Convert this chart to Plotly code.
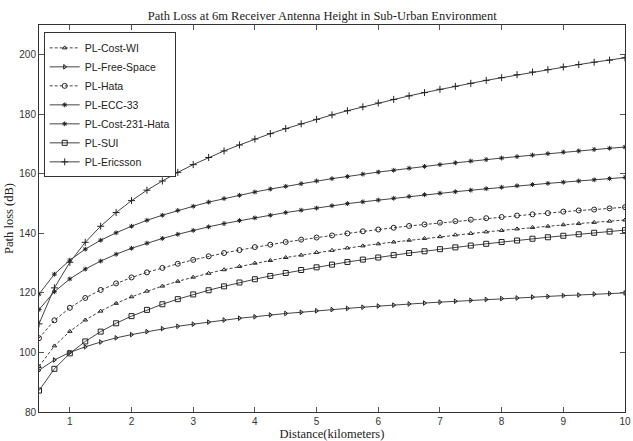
import plotly.graph_objects as go

distance_km = [0.5, 0.75, 1.0, 1.25, 1.5, 1.75, 2.0, 2.25, 2.5, 2.75, 3.0, 3.25, 3.5, 3.75,
               4.0, 4.25, 4.5, 4.75, 5.0, 5.25, 5.5, 5.75, 6.0, 6.25, 6.5, 6.75, 7.0, 7.25,
               7.5, 7.75, 8.0, 8.25, 8.5, 8.75, 9.0, 9.25, 9.5, 9.75, 10.0]

pl_cost_wi = [95.3, 102.2, 107.1, 110.9, 113.9, 116.5, 118.7, 120.6, 122.3, 123.9, 125.3, 126.6,
              127.8, 128.9, 130.0, 130.9, 131.9, 132.7, 133.6, 134.3, 135.1, 135.8, 136.5, 137.1,
              137.7, 138.3, 138.9, 139.5, 140.0, 140.5, 141.0, 141.5, 142.0, 142.4, 142.9, 143.3,
              143.7, 144.1, 144.5]
pl_free_space = [94.0, 97.5, 100.0, 101.9, 103.5, 104.9, 106.0, 107.0, 108.0, 108.8, 109.5, 110.2,
                 110.9, 111.5, 112.0, 112.6, 113.1, 113.5, 114.0, 114.4, 114.8, 115.2, 115.6, 115.9,
                 116.3, 116.6, 116.9, 117.2, 117.5, 117.8, 118.1, 118.3, 118.6, 118.8, 119.1, 119.3,
                 119.6, 119.8, 120.0]
pl_hata = [104.8, 110.8, 115.0, 118.3, 121.0, 123.2, 125.2, 126.9, 128.4, 129.8, 131.1, 132.3,
           133.4, 134.4, 135.4, 136.2, 137.1, 137.9, 138.6, 139.3, 140.0, 140.7, 141.3, 141.9,
           142.5, 143.0, 143.6, 144.1, 144.6, 145.1, 145.5, 146.0, 146.4, 146.8, 147.3, 147.7,
           148.0, 148.4, 148.8]
pl_ecc33 = [119.6, 126.3, 131.0, 134.7, 137.7, 140.2, 142.4, 144.4, 146.1, 147.7, 149.1, 150.5,
            151.7, 152.8, 153.9, 154.9, 155.8, 156.7, 157.6, 158.4, 159.1, 159.9, 160.6, 161.2,
            161.9, 162.5, 163.1, 163.7, 164.3, 164.8, 165.3, 165.8, 166.3, 166.8, 167.3, 167.7,
            168.2, 168.6, 169.0]
pl_cost231_hata = [114.4, 120.4, 124.7, 128.0, 130.7, 133.0, 135.0, 136.7, 138.3, 139.7, 141.0, 142.2,
                   143.3, 144.3, 145.2, 146.1, 147.0, 147.8, 148.5, 149.3, 150.0, 150.6, 151.2, 151.8,
                   152.4, 153.0, 153.5, 154.0, 154.5, 155.0, 155.5, 156.0, 156.4, 156.8, 157.2, 157.6,
                   158.0, 158.4, 158.8]
pl_sui = [87.2, 94.5, 99.7, 103.7, 107.0, 109.8, 112.2, 114.3, 116.2, 117.9, 119.5, 120.9,
          122.2, 123.5, 124.6, 125.7, 126.7, 127.7, 128.6, 129.5, 130.4, 131.2, 131.9, 132.7,
          133.4, 134.0, 134.7, 135.3, 135.9, 136.5, 137.1, 137.6, 138.2, 138.7, 139.2, 139.7,
          140.2, 140.6, 141.1]
pl_ericsson = [109.6, 121.7, 130.3, 137.0, 142.4, 147.0, 151.0, 154.5, 157.6, 160.5, 163.1, 165.5,
               167.7, 169.7, 171.7, 173.5, 175.2, 176.8, 178.3, 179.8, 181.2, 182.5, 183.8, 185.0,
               186.2, 187.3, 188.4, 189.4, 190.4, 191.4, 192.3, 193.3, 194.2, 195.0, 195.9, 196.7,
               197.5, 198.2, 199.0]

series_names = ["PL-Cost-WI", "PL-Free-Space", "PL-Hata", "PL-ECC-33",
                "PL-Cost-231-Hata", "PL-SUI", "PL-Ericsson"]
series_values = [pl_cost_wi, pl_free_space, pl_hata, pl_ecc33,
                 pl_cost231_hata, pl_sui, pl_ericsson]
x_tick_values = [1, 2, 3, 4, 5, 6, 7, 8, 9, 10]
y_tick_values = [80, 100, 120, 140, 160, 180, 200]

styles = [
    dict(dash="3px,2px", symbol="triangle-up-open", size=4),
    dict(dash="solid", symbol="triangle-right-open", size=4),
    dict(dash="3px,2px", symbol="circle-open", size=5),
    dict(dash="solid", symbol="asterisk-open", size=4),
    dict(dash="solid", symbol="asterisk-open", size=4),
    dict(dash="solid", symbol="square-open", size=5),
    dict(dash="solid", symbol="cross-thin-open", size=5),
]

fig = go.Figure()
for name, vals, st in zip(series_names, series_values, styles):
    fig.add_trace(go.Scatter(
        x=distance_km, y=vals, name=name, mode="lines+markers",
        line=dict(color="#444444", width=1, dash=st["dash"]),
        marker=dict(symbol=st["symbol"], size=st["size"], color="#222222",
                    line=dict(color="#222222", width=1)),
    ))

axis_font = dict(family="Liberation Sans Narrow, Arial Narrow, Liberation Sans, Arial", size=10, color="#333333")
serif = "Liberation Serif, Times New Roman, serif"

fig.update_layout(
    width=633, height=441,
    margin=dict(l=39, r=2, t=25, b=29),
    paper_bgcolor="white", plot_bgcolor="white",
    title=dict(text="Path Loss at 6m Receiver Antenna Height in Sub-Urban Environment",
               xref="container", x=0.509, xanchor="center", y=0.965, yanchor="middle",
               font=dict(family=serif, size=12.5, color="#222222")),
    xaxis=dict(range=[0.5, 10], tickvals=x_tick_values, showgrid=False, zeroline=False,
               showline=True, linecolor="#333333", linewidth=1, mirror="ticks",
               ticks="inside", ticklen=5, tickcolor="#555555", tickfont=axis_font,
               ticklabeloverflow="allow",
               title=dict(text="Distance(kilometers)", font=dict(family=serif, size=12.5, color="#222222"),
                          standoff=2)),
    yaxis=dict(range=[80, 210], tickvals=y_tick_values, showgrid=False, zeroline=False,
               showline=True, linecolor="#333333", linewidth=1, mirror="ticks",
               ticks="inside", ticklen=5, tickcolor="#555555", tickfont=axis_font,
               ticklabeloverflow="allow",
               title=dict(text="Path loss (dB)", font=dict(family=serif, size=12.5, color="#222222"),
                          standoff=2)),
    legend=dict(x=0.008, y=0.981, xanchor="left", yanchor="top",
                bgcolor="white", bordercolor="#333333", borderwidth=1,
                font=dict(family="Liberation Sans Narrow, Arial Narrow, Liberation Sans, Arial", size=10.5, color="#222222"),
                tracegroupgap=0),
    showlegend=True,
)

fig.write_html("out.html")
